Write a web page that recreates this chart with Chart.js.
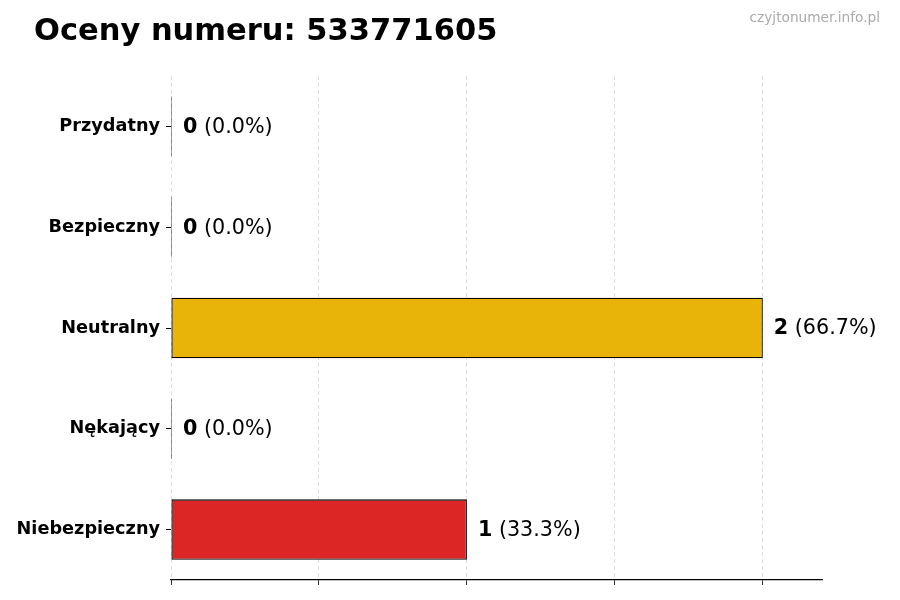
<!DOCTYPE html>
<html>
<head>
<meta charset="utf-8">
<script src="https://cdn.jsdelivr.net/npm/chart.js@4/dist/chart.umd.min.js"></script>
<style>
  html, body { margin: 0; padding: 0; background: #fff; }
  #wrap { width: 900px; height: 600px; }
</style>
</head>
<body>
<div id="wrap"><canvas id="chart" width="900" height="600"></canvas></div>
<script>
// data
const categories = ["Przydatny", "Bezpieczny", "Neutralny", "Nękający", "Niebezpieczny"];
const counts = [0, 0, 2, 0, 1];
const percents = ["0.0%", "0.0%", "66.7%", "0.0%", "33.3%"];
const barColors = ["#2e9e44", "#3b82f6", "#e8b40a", "#f97316", "#dc2626"];
const xTicks = [0, 0.5, 1, 1.5, 2];

const FONT = "'DejaVu Sans', sans-serif";

// title, watermark
const headerPlugin = {
    id: "header",
    afterDraw(chart) {
        const ctx = chart.ctx;
        ctx.save();
        ctx.textBaseline = "alphabetic";
        ctx.fillStyle = "#000";
        ctx.textAlign = "left";
        ctx.font = "bold 30.5px " + FONT;
        ctx.fillText("Oceny numeru: 533771605", 34, 40);
        ctx.fillStyle = "#aaaaaa";
        ctx.textAlign = "right";
        ctx.font = "13.7px " + FONT;
        ctx.fillText("czyjtonumer.info.pl", 880, 22);
        ctx.restore();
    }
};

// "N (xx.x%)" next to each bar
const valueLabels = {
    id: "valueLabels",
    afterDraw(chart) {
        const ctx = chart.ctx;
        const meta = chart.getDatasetMeta(0);
        ctx.save();
        ctx.textBaseline = "middle";
        ctx.textAlign = "left";
        ctx.fillStyle = "#000";
        meta.data.forEach((bar, i) => {
            let x = bar.x + 11;
            const y = bar.y + 1;
            const num = String(counts[i]);
            ctx.font = "bold 20.7px " + FONT;
            ctx.fillText(num, x, y);
            x += ctx.measureText(num).width;
            ctx.font = "20.7px " + FONT;
            ctx.fillText(" (" + percents[i] + ")", x, y);
        });
        ctx.restore();
    }
};

new Chart(document.getElementById("chart"), {
    type: "bar",
    data: {
        labels: categories,
        datasets: [{
            data: counts,
            backgroundColor: barColors,
            borderColor: "#000",
            borderWidth: 1.3,
            borderSkipped: false,
            minBarLength: 1,
            barPercentage: 0.6,
            categoryPercentage: 1
        }]
    },
    options: {
        indexAxis: "y",
        responsive: false,
        animation: false,
        devicePixelRatio: 1,
        layout: { padding: { top: 76, right: 78, bottom: 15, left: 0 } },
        plugins: {
            legend: { display: false },
            tooltip: { enabled: false },
            title: { display: false }
        },
        scales: {
            x: {
                type: "linear",
                min: 0,
                max: 2.2,
                z: 1,
                afterBuildTicks: s => { s.ticks = xTicks.map(v => ({ value: v })); },
                ticks: { display: false },
                grid: {
                    color: "#d4d4d4",
                    lineWidth: 0.8,
                    tickColor: "#000",
                    tickLength: 5,
                    drawTicks: true
                },
                border: { display: true, color: "#000", width: 1.2, dash: [4, 3] }
            },
            y: {
                afterFit: s => { s.width = 171; },
                ticks: {
                    color: "#000",
                    padding: 6,
                    font: { family: FONT, size: 17.7, weight: "bold" }
                },
                grid: {
                    offset: false,
                    drawOnChartArea: false,
                    drawTicks: true,
                    tickLength: 5,
                    tickColor: "#000"
                },
                border: { display: false }
            }
        }
    },
    plugins: [headerPlugin, valueLabels]
});
</script>
</body>
</html>
